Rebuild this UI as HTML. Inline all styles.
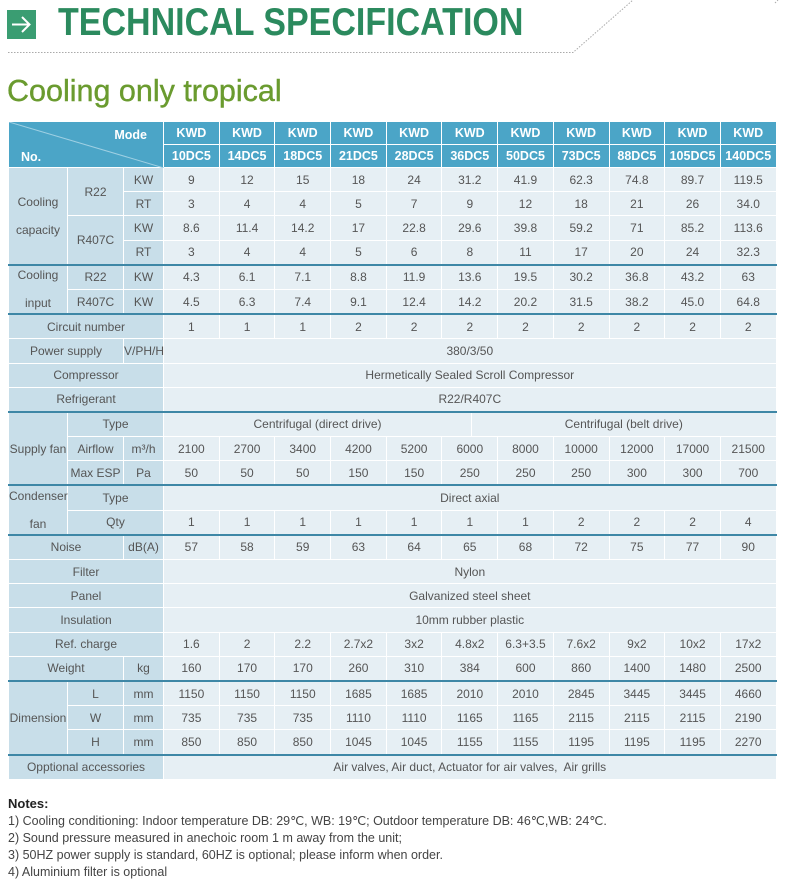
<!DOCTYPE html>
<html><head><meta charset="utf-8">
<style>
body{margin:0;width:789px;height:888px;background:#fff;font-family:"Liberation Sans",sans-serif;position:relative;overflow:hidden}
.icon{position:absolute;left:7px;top:10px;width:29px;height:29px;background:#3a9d72}
h1{position:absolute;left:58px;top:1px;margin:0;font-size:39px;font-weight:bold;color:#2b8a5e;transform:scaleX(0.872);transform-origin:0 0;white-space:nowrap}
h2{position:absolute;left:7px;top:74px;margin:0;font-size:30.5px;font-weight:normal;color:#6a9b2f;-webkit-text-stroke:0.4px #6a9b2f}
table{position:absolute;left:8px;top:121px;width:768px;border-collapse:collapse;table-layout:fixed;font-size:12px;color:#555}
td{border:1px solid #fff;text-align:center;padding:0;height:23.2px;background:#e6eff4;white-space:nowrap}
td.l{background:#c8dee9}
tr.hd td{background:#4ba5c7;color:#fff;font-weight:bold;height:22px;font-size:12.5px}
tr.g td{border-top:2px solid #3e87a6}
.notes{position:absolute;left:8px;top:795px;font-size:12.5px;color:#444;line-height:17px}
.notes b{color:#222;font-size:13px}
</style></head><body>
<div class="icon"><svg width="29" height="29" viewBox="0 0 29 29"><path d="M5 14.5H22M15 7l7.5 7.5L15 22" stroke="#fff" stroke-width="2" fill="none"/></svg></div>
<h1>TECHNICAL SPECIFICATION</h1>
<svg style="position:absolute;left:0;top:0" width="789" height="60"><path d="M8 52.5H573L633 0M775 3L778 0" stroke="#aaa" stroke-width="1" stroke-dasharray="1.5 1.5" fill="none"/></svg>
<h2>Cooling only tropical</h2>
<table>
<colgroup><col style="width:59px"><col style="width:56px"><col style="width:40px"><col span="11" style="width:55.7px"></colgroup>
<tr class="hd"><td colspan="3" rowspan="2" style="position:relative;text-align:left;vertical-align:top"><svg style="position:absolute;left:0;top:0" width="155" height="46"><line x1="0" y1="0" x2="155" y2="46" stroke="#9fd0e3" stroke-width="1"/></svg><span style="position:absolute;right:16px;top:6px">Mode</span><span style="position:absolute;left:12px;top:28px">No.</span></td><td>KWD</td><td>KWD</td><td>KWD</td><td>KWD</td><td>KWD</td><td>KWD</td><td>KWD</td><td>KWD</td><td>KWD</td><td>KWD</td><td>KWD</td></tr>
<tr class="hd"><td>10DC5</td><td>14DC5</td><td>18DC5</td><td>21DC5</td><td>28DC5</td><td>36DC5</td><td>50DC5</td><td>73DC5</td><td>88DC5</td><td>105DC5</td><td>140DC5</td></tr>
<tr><td class="l" rowspan="4">Cooling<br><br>capacity</td><td class="l" rowspan="2">R22</td><td class="l">KW</td><td>9</td><td>12</td><td>15</td><td>18</td><td>24</td><td>31.2</td><td>41.9</td><td>62.3</td><td>74.8</td><td>89.7</td><td>119.5</td></tr>
<tr><td class="l">RT</td><td>3</td><td>4</td><td>4</td><td>5</td><td>7</td><td>9</td><td>12</td><td>18</td><td>21</td><td>26</td><td>34.0</td></tr>
<tr><td class="l" rowspan="2">R407C</td><td class="l">KW</td><td>8.6</td><td>11.4</td><td>14.2</td><td>17</td><td>22.8</td><td>29.6</td><td>39.8</td><td>59.2</td><td>71</td><td>85.2</td><td>113.6</td></tr>
<tr><td class="l">RT</td><td>3</td><td>4</td><td>4</td><td>5</td><td>6</td><td>8</td><td>11</td><td>17</td><td>20</td><td>24</td><td>32.3</td></tr>
<tr class="g"><td class="l" rowspan="2">Cooling<br><br>input</td><td class="l">R22</td><td class="l">KW</td><td>4.3</td><td>6.1</td><td>7.1</td><td>8.8</td><td>11.9</td><td>13.6</td><td>19.5</td><td>30.2</td><td>36.8</td><td>43.2</td><td>63</td></tr>
<tr><td class="l">R407C</td><td class="l">KW</td><td>4.5</td><td>6.3</td><td>7.4</td><td>9.1</td><td>12.4</td><td>14.2</td><td>20.2</td><td>31.5</td><td>38.2</td><td>45.0</td><td>64.8</td></tr>
<tr class="g"><td class="l" colspan="3">Circuit number</td><td>1</td><td>1</td><td>1</td><td>2</td><td>2</td><td>2</td><td>2</td><td>2</td><td>2</td><td>2</td><td>2</td></tr>
<tr><td class="l" colspan="2">Power supply</td><td class="l">V/PH/H</td><td colspan="11">380/3/50</td></tr>
<tr><td class="l" colspan="3">Compressor</td><td colspan="11">Hermetically Sealed Scroll Compressor</td></tr>
<tr><td class="l" colspan="3">Refrigerant</td><td colspan="11">R22/R407C</td></tr>
<tr class="g"><td class="l" rowspan="3">Supply fan</td><td class="l" colspan="2">Type</td><td colspan="11" style="padding:0"><div style="display:flex;height:23px;align-items:center"><div style="width:307px;border-right:1px solid #fff;height:23px;line-height:23px">Centrifugal (direct drive)</div><div style="flex:1">Centrifugal (belt drive)</div></div></td></tr>
<tr><td class="l">Airflow</td><td class="l">m³/h</td><td>2100</td><td>2700</td><td>3400</td><td>4200</td><td>5200</td><td>6000</td><td>8000</td><td>10000</td><td>12000</td><td>17000</td><td>21500</td></tr>
<tr><td class="l">Max ESP</td><td class="l">Pa</td><td>50</td><td>50</td><td>50</td><td>150</td><td>150</td><td>250</td><td>250</td><td>250</td><td>300</td><td>300</td><td>700</td></tr>
<tr class="g"><td class="l" rowspan="2">Condenser<br><br>fan</td><td class="l" colspan="2">Type</td><td colspan="11">Direct axial</td></tr>
<tr><td class="l" colspan="2">Qty</td><td>1</td><td>1</td><td>1</td><td>1</td><td>1</td><td>1</td><td>1</td><td>2</td><td>2</td><td>2</td><td>4</td></tr>
<tr class="g"><td class="l" colspan="2">Noise</td><td class="l">dB(A)</td><td>57</td><td>58</td><td>59</td><td>63</td><td>64</td><td>65</td><td>68</td><td>72</td><td>75</td><td>77</td><td>90</td></tr>
<tr><td class="l" colspan="3">Filter</td><td colspan="11">Nylon</td></tr>
<tr><td class="l" colspan="3">Panel</td><td colspan="11">Galvanized steel sheet</td></tr>
<tr><td class="l" colspan="3">Insulation</td><td colspan="11">10mm rubber plastic</td></tr>
<tr><td class="l" colspan="3">Ref. charge</td><td>1.6</td><td>2</td><td>2.2</td><td>2.7x2</td><td>3x2</td><td>4.8x2</td><td>6.3+3.5</td><td>7.6x2</td><td>9x2</td><td>10x2</td><td>17x2</td></tr>
<tr><td class="l" colspan="2">Weight</td><td class="l">kg</td><td>160</td><td>170</td><td>170</td><td>260</td><td>310</td><td>384</td><td>600</td><td>860</td><td>1400</td><td>1480</td><td>2500</td></tr>
<tr class="g"><td class="l" rowspan="3">Dimension</td><td class="l">L</td><td class="l">mm</td><td>1150</td><td>1150</td><td>1150</td><td>1685</td><td>1685</td><td>2010</td><td>2010</td><td>2845</td><td>3445</td><td>3445</td><td>4660</td></tr>
<tr><td class="l">W</td><td class="l">mm</td><td>735</td><td>735</td><td>735</td><td>1110</td><td>1110</td><td>1165</td><td>1165</td><td>2115</td><td>2115</td><td>2115</td><td>2190</td></tr>
<tr><td class="l">H</td><td class="l">mm</td><td>850</td><td>850</td><td>850</td><td>1045</td><td>1045</td><td>1155</td><td>1155</td><td>1195</td><td>1195</td><td>1195</td><td>2270</td></tr>
<tr class="g"><td class="l" colspan="3">Opptional accessories</td><td colspan="11">Air valves, Air duct, Actuator for air valves,&nbsp; Air grills</td></tr>
</table>
<div class="notes"><b>Notes:</b><br>
1) Cooling conditioning: Indoor temperature DB: 29℃, WB: 19℃; Outdoor temperature DB: 46℃,WB: 24℃.<br>
2) Sound pressure measured in anechoic room 1 m away from the unit;<br>
3) 50HZ power supply is standard, 60HZ is optional; please inform when order.<br>
4) Aluminium filter is optional</div>
</body></html>
